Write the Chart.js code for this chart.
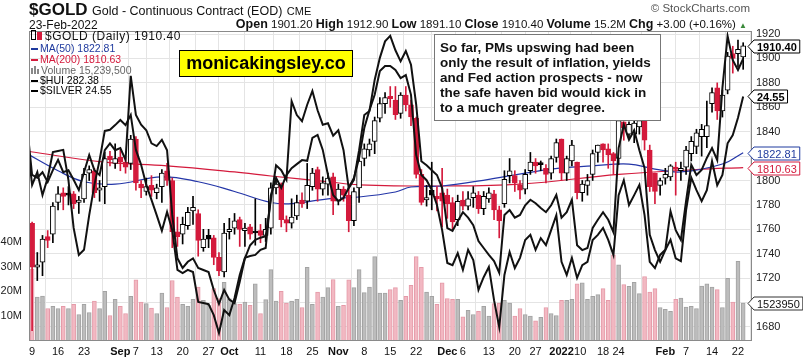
<!DOCTYPE html>
<html>
<head>
<meta charset="utf-8">
<script src="https://cdn.jsdelivr.net/npm/chart.js@4"></script>
<style>
  body { margin: 0; background: #fff; font-family: Arial, "Liberation Sans", sans-serif; }
  #wrap { position: relative; width: 803px; height: 360px; overflow: hidden; }
  canvas { position: absolute; left: 0; top: 0; }
  .abs { position: absolute; white-space: nowrap; }
  .lg { position: absolute; left: 31px; font-size: 10.5px; line-height: 11px; white-space: nowrap; }
  .dash { display: inline-block; width: 7px; height: 2px; margin-right: 2px; vertical-align: middle; }
  .vb { display: inline-block; width: 2px; background: #888; margin-right: 1px; vertical-align: baseline; }
</style>
</head>
<body>
<div id="wrap">
  <canvas id="chart1" width="803" height="360"></canvas>

  <div class="abs" style="left:29px; top:0px; color:#111;">
    <b style="font-size:17px;">$GOLD</b>
    <span style="font-size:12.5px;">Gold - Continuous Contract (EOD)</span>
    <span style="font-size:11px;">CME</span>
  </div>
  <div class="abs" style="left:29px; top:18px; font-size:12px; color:#111;">23-Feb-2022</div>
  <div class="abs" style="right:56px; top:17px; font-size:11.5px; color:#111;">
    <b style="font-size:12.5px;">Open</b> 1901.20 <b style="font-size:12.5px;">High</b> 1912.90
    <b style="font-size:12.5px;">Low</b> 1891.10 <b style="font-size:12.5px;">Close</b> 1910.40
    <b style="font-size:12.5px;">Volume</b> 15.2M <b style="font-size:12.5px;">Chg</b> +3.00 (+0.16%)
    <span style="font-size:8px; color:#3a8a3a;">&#9650;</span>
  </div>
  <div class="abs" style="right:53px; top:2px; font-size:11.5px; color:#555;">&copy; StockCharts.com</div>

  <div class="lg" style="top:30px; font-size:12px; letter-spacing:0.5px; color:#111;">
    <span style="display:inline-block;width:3px;height:8px;border:1px solid #000;margin-right:1px;"></span><span style="display:inline-block;width:3px;height:6px;background:#d41a3c;border:1px solid #d41a3c;margin-right:3px;"></span>$GOLD (Daily) 1910.40
  </div>
  <div class="lg" style="top:43px; color:#1f3a9e;"><span class="dash" style="background:#1f3a9e;"></span>MA(50) 1822.81</div>
  <div class="lg" style="top:54px; color:#d41a3c;"><span class="dash" style="background:#d41a3c;"></span>MA(200) 1810.63</div>
  <div class="lg" style="top:65px; color:#666;"><span class="vb" style="height:6px;"></span><span class="vb" style="height:8px;"></span><span class="vb" style="height:5px;margin-right:2px;"></span>Volume 15,239,500</div>
  <div class="lg" style="top:75px; color:#000;"><span class="dash" style="background:#000;"></span>$HUI 282.38</div>
  <div class="lg" style="top:85px; color:#000;"><span class="dash" style="background:#000;"></span>$SILVER 24.55</div>

  <div class="abs" style="left:179px; top:50px; width:172px; height:25px; background:#ffff00; border:1px solid #000; font-weight:bold; font-size:18px; line-height:25px; text-align:center; color:#000;">monicakingsley.co</div>

  <div class="abs" style="left:434px; top:34px; width:215px; height:75px; padding:5px 5px; background:#fff; border:1px solid #777; font-weight:bold; font-size:13.5px; line-height:15px; color:#111; white-space:normal;">
    So far, PMs upswing had been<br>only the result of inflation, yields<br>and Fed action prospects - now<br>the safe haven bid would kick in<br>to a much greater degree.
  </div>
</div>

<script>
// daily gold candles, Aug 9 2021 .. Feb 23 2022 (index 0 = Aug 9)
const opens = [
  1765,1729,1733,1754,1756,1782,1790,1789,1789,1782,
  1785,1806,1808,1792,1795,1820,1814,1819,1815,1814,
  1834,1797,1791,1796,1790,1795,1808,1800,1758,1756,
  1763,1775,1773,1745,1755,1753,1737,1725,1758,1761,
  1768,1759,1762,1758,1759,1755,1761,1794,1797,1768,
  1765,1771,1784,1783,1795,1809,1793,1797,1803,1783,
  1793,1788,1767,1794,1818,1825,1832,1851,1863,1869,
  1866,1855,1870,1862,1851,1805,1784,1792,1787,1790,
  1788,1782,1768,1784,1779,1786,1788,1777,1785,1789,
  1776,1781,1804,1804,1796,1793,1808,1815,1814,1810,
  1806,1819,1834,1806,1816,1815,1790,1796,1805,1823,
  1830,1826,1822,1818,1848,1838,1838,1844,1849,1825,
  1806,1796,1802,1803,1811,1808,1811,1822,1828,1836,
  1836,1863,1876,1857,1874,1904,1904,1901.2
];
const highs = [
  1766,1741,1755,1759,1782,1795,1794,1795,1791,1787,
  1810,1812,1810,1800,1823,1824,1830,1825,1819,1837,
  1836,1800,1802,1804,1797,1809,1814,1802,1770,1770,
  1778,1787,1776,1760,1760,1755,1741,1765,1769,1773,
  1770,1765,1764,1785,1764,1769,1798,1801,1798,1771,
  1785,1788,1790,1814,1810,1811,1803,1806,1806,1797,
  1795,1793,1794,1820,1830,1834,1852,1868,1872,1877,
  1877,1872,1877,1866,1852,1809,1796,1815,1795,1810,
  1793,1786,1788,1791,1791,1795,1791,1791,1794,1792,
  1779,1808,1818,1808,1800,1809,1823,1818,1816,1813,
  1820,1834,1834,1820,1833,1815,1800,1805,1825,1829,
  1830,1830,1823,1852,1848,1848,1850,1853,1852,1829,
  1806,1802,1810,1813,1815,1815,1828,1836,1842,1846,
  1865,1876,1880,1874,1905,1910,1915,1912.9
];
const lows = [
  1677,1718,1722,1745,1749,1776,1776,1780,1777,1773,
  1782,1800,1786,1783,1781,1812,1810,1808,1806,1809,
  1792,1786,1788,1787,1785,1782,1796,1745,1746,1748,
  1760,1764,1738,1742,1745,1731,1722,1721,1752,1756,
  1746,1746,1752,1747,1749,1750,1756,1789,1762,1758,
  1761,1768,1778,1777,1792,1783,1788,1788,1772,1780,
  1783,1758,1763,1782,1812,1820,1822,1848,1855,1860,
  1850,1851,1857,1845,1802,1780,1779,1776,1775,1762,
  1769,1760,1763,1776,1776,1778,1773,1772,1782,1768,
  1753,1778,1798,1791,1785,1789,1805,1806,1808,1798,
  1801,1815,1800,1800,1812,1785,1783,1788,1800,1815,
  1815,1810,1805,1813,1833,1834,1831,1838,1825,1791,
  1781,1788,1797,1800,1788,1800,1805,1816,1822,1820,
  1827,1856,1850,1852,1871,1888,1893,1891.1
];
const closes = [
  1729,1731,1752,1751,1779,1789,1787,1788,1781,1784,
  1805,1809,1790,1794,1818,1817,1818,1815,1811,1834,
  1798,1794,1795,1792,1794,1806,1800,1758,1754,1764,
  1774,1778,1751,1752,1752,1737,1726,1757,1760,1767,
  1760,1761,1756,1757,1755,1760,1794,1797,1768,1765,
  1770,1782,1781,1796,1806,1793,1798,1802,1783,1793,
  1788,1767,1791,1816,1826,1830,1849,1863,1868,1867,
  1854,1870,1862,1852,1805,1782,1786,1788,1785,1783,
  1781,1766,1783,1779,1785,1790,1777,1787,1790,1776,
  1767,1801,1808,1798,1792,1805,1815,1812,1813,1805,
  1818,1831,1806,1818,1829,1790,1797,1800,1822,1829,
  1825,1821,1816,1849,1843,1846,1847,1849,1833,1795,
  1791,1800,1805,1812,1809,1810,1825,1832,1839,1842,
  1845,1872,1857,1870,1902,1900,1907.4,1910.4
];
// volume in millions
const volumes = [
  29.0,17.7,18.1,13.1,14.0,13.1,14.0,13.1,14.8,10.7,
  14.8,11.5,16.1,13.1,20.0,10.3,16.8,14.0,11.1,18.0,
  24.7,15.7,15.1,13.3,11.1,19.3,13.5,24.4,17.7,14.8,
  14.0,16.8,21.7,16.4,14.4,21.1,17.1,23.7,17.1,15.1,
  14.8,15.7,14.4,23.1,11.1,16.7,28.8,16.1,20.0,15.3,
  16.1,16.8,13.5,29.7,14.8,19.7,17.7,21.5,24.8,14.0,
  14.4,24.7,21.5,28.8,19.5,21.7,34.0,19.3,19.3,20.7,
  21.5,16.4,18.0,22.4,34.0,29.7,19.7,18.0,14.8,23.5,
  17.1,16.8,16.8,9.7,12.4,10.7,12.0,14.0,10.0,15.1,
  15.3,16.4,15.3,10.0,13.1,10.7,10.0,8.1,9.5,13.5,
  11.1,10.3,16.4,16.4,16.8,23.1,23.5,16.8,18.0,18.7,
  21.1,16.4,34.7,30.7,22.8,22.0,23.7,19.1,26.0,19.7,
  21.1,13.5,12.8,12.0,16.8,17.3,13.7,14.0,13.1,22.1,
  23.1,21.7,20.7,13.5,25.3,15.7,32.1,15.24
];
// overlays start one day earlier (Aug 6)
const hui = [
  260.1,247.8,251.3,245.0,249.7,256.8,257.1,257.4,249.1,236.0,228.6,
  230.0,239.5,247.8,254.6,262.6,262.9,264.2,265.6,264.2,267.0,
  257.4,253.3,247.8,243.7,239.5,235.2,240.4,235.4,224.5,223.6,
  224.5,223.9,215.7,215.4,215.1,212.1,207.2,213.5,212.1,216.8,
  223.1,227.8,228.3,228.6,230.0,230.5,245.0,249.7,247.0,250.5,
  252.4,253.5,254.6,254.4,260.7,261.5,257.4,250.5,245.0,243.4,
  244.2,247.0,249.7,255.2,263.4,268.3,272.5,279.0,280.4,280.4,
  279.3,277.1,277.9,272.5,256.0,250.5,249.1,246.4,242.3,235.4,
  226.4,225.8,229.1,224.5,230.0,227.2,219.0,222.5,225.3,216.2,
  208.8,223.1,229.4,225.0,227.8,232.7,234.1,230.0,233.2,231.3,
  235.4,239.5,226.7,223.1,227.8,222.3,225.8,226.7,232.7,234.1,
  236.0,232.7,228.6,245.0,249.1,242.3,245.0,247.8,239.5,226.7,
  225.0,228.6,230.0,240.6,235.4,232.7,243.4,253.3,250.5,251.9,
  255.2,257.9,254.6,274.4,288.6,282.0,279.3,282.38
];
const silver = [
  24.14,23.41,23.37,23.45,23.31,23.48,23.63,23.45,23.48,23.34,23.19,
  23.45,23.70,23.48,23.41,23.77,23.87,23.77,23.80,23.63,24.85,
  24.28,24.14,24.06,23.87,23.83,23.92,23.77,22.83,22.20,22.06,
  22.15,22.20,22.06,22.03,22.00,21.74,21.54,21.74,21.60,21.55,
  21.86,22.20,22.39,22.47,22.50,22.52,23.05,23.55,23.48,23.34,
  24.48,24.28,24.19,24.43,24.63,24.35,24.14,24.16,23.98,24.06,
  23.77,23.22,23.34,23.77,24.28,24.34,24.79,25.11,25.35,25.43,
  25.22,25.06,25.21,25.01,24.43,23.61,23.55,23.48,23.41,23.22,
  22.64,22.60,22.74,22.87,22.79,22.68,22.45,22.35,22.25,22.16,
  21.99,22.83,22.90,22.79,22.83,22.97,23.05,23.00,22.93,22.87,
  22.97,23.12,22.79,22.87,23.05,22.39,22.32,22.35,22.64,22.76,
  22.87,22.76,22.58,23.80,24.14,23.92,24.06,23.77,23.51,22.54,
  22.32,22.15,22.32,22.47,22.20,22.16,22.90,23.37,23.19,23.03,
  23.19,23.61,23.26,23.41,23.87,23.99,24.24,24.55
];
const ma50Days = [-1,5,10,16,25,32,39,46,50,57,63,70,73,79,88,100,108,115,120,125,133,137];
const ma50 = [1822,1808,1799,1797,1803,1799,1791,1782,1781,1785,1786.5,1790.6,1794.7,1795.5,1801,1809.4,1812,1813.5,1809.4,1807,1813.5,1822.81];
const ma200Days = [-1,14,26,39,46,57,63,79,94,113,128,137];
const ma200 = [1824,1815,1812,1807,1803.7,1799,1796.5,1795.5,1797,1805,1809,1810.63];

const tickDays = [0,5,10,17,20,24,29,34,38,44,49,54,59,64,69,74,80,83,88,93,97,102,105.6,110,113,122,126,131,136];
const tickLabels = ['9','16','23','Sep','7','13','20','27','Oct','11','18','25','Nov','8','15','22','Dec','6','13','20','27','2022','10','18','24','Feb','7','14','22'];
const boldLabels = ['Sep','Oct','Nov','Dec','2022','Feb'];
const priceTicks = [1680,1700,1720,1740,1760,1780,1800,1820,1840,1860,1880,1900,1920];
const volTicks = [10,20,30,40];

const RED = '#d41a3c';
const isUp = i => closes[i] >= (i ? closes[i - 1] : opens[0]);

const wickData = closes.map((c, i) => ({ x: i, y: [lows[i], highs[i]] }));
const bodyData = closes.map((c, i) => ({ x: i, y: [Math.min(opens[i], c), Math.max(opens[i], c)] }));
const volData = volumes.map((v, i) => ({ x: i, y: v }));
const huiData = hui.map((v, k) => ({ x: k - 1, y: v }));
const silverData = silver.map((v, k) => ({ x: k - 1, y: v }));

const tagPlugin = {
  id: 'tags',
  afterDraw(chart) {
    const ctx = chart.ctx, a = chart.chartArea;
    ctx.save();
    ctx.strokeStyle = '#8a8a8a';
    ctx.lineWidth = 1;
    ctx.strokeRect(a.left + 0.5, a.top + 0.5, a.right - a.left - 1, a.bottom - a.top - 1);

    const tag = (y, text, border, fg, bold) => {
      ctx.font = (bold ? 'bold ' : '') + '11px Arial';
      const w = ctx.measureText(text).width + 6;
      const x0 = a.right - 4, x1 = a.right + 2, h = 13;
      y = Math.round(y) + 0.5;
      ctx.beginPath();
      ctx.moveTo(x0, y);
      ctx.lineTo(x1, y - h / 2);
      ctx.lineTo(x1 + w, y - h / 2);
      ctx.lineTo(x1 + w, y + h / 2);
      ctx.lineTo(x1, y + h / 2);
      ctx.closePath();
      ctx.fillStyle = '#fff';
      ctx.fill();
      ctx.strokeStyle = border;
      ctx.stroke();
      ctx.fillStyle = fg;
      ctx.textBaseline = 'middle';
      ctx.textAlign = 'left';
      ctx.fillText(text, x1 + 3, y + 1);
    };
    const s = chart.scales;
    tag(s.yVol.getPixelForValue(volumes[volumes.length - 1]), '1523950', '#333', '#111', false);
    tag(s.y.getPixelForValue(ma200[ma200.length - 1]), '1810.63', RED, RED, false);
    tag(s.y.getPixelForValue(ma50[ma50.length - 1]), '1822.81', '#1f3a9e', '#1f3a9e', false);
    tag(s.ySilver.getPixelForValue(silver[silver.length - 1]), '24.55', '#000', '#000', true);
    tag(s.y.getPixelForValue(closes[closes.length - 1]), '1910.40', '#000', '#000', true);
    ctx.restore();
  }
};

new Chart(document.getElementById('chart1'), {
  type: 'bar',
  data: {
    datasets: [
      {
        label: 'Volume', data: volData, yAxisID: 'yVol', order: 6,
        barThickness: 4, grouped: false,
        backgroundColor: volData.map((d, i) => isUp(i) ? '#bdbdbd' : '#f2b8c2'),
        borderColor: volData.map((d, i) => isUp(i) ? '#a3a3a3' : '#e59aa8'),
        borderWidth: 1, borderSkipped: false
      },
      {
        type: 'line', label: 'MA(200)', data: ma200.map((v, k) => ({ x: ma200Days[k], y: v })),
        yAxisID: 'y', order: 5, borderColor: RED, borderWidth: 1.2, pointRadius: 0, tension: 0.4, clip: 0
      },
      {
        type: 'line', label: 'MA(50)', data: ma50.map((v, k) => ({ x: ma50Days[k], y: v })),
        yAxisID: 'y', order: 4, borderColor: '#2436a8', borderWidth: 1.2, pointRadius: 0, tension: 0.4, clip: 0
      },
      {
        label: 'wick', data: wickData, yAxisID: 'y', order: 3,
        barThickness: 1, grouped: false, minBarLength: 1,
        backgroundColor: wickData.map((d, i) => isUp(i) ? '#000' : RED)
      },
      {
        label: 'body', data: bodyData, yAxisID: 'y', order: 2,
        barThickness: 5, grouped: false, minBarLength: 2,
        backgroundColor: bodyData.map((d, i) => closes[i] > opens[i] ? '#fff' : (isUp(i) ? '#000' : RED)),
        borderColor: bodyData.map((d, i) => isUp(i) ? '#000' : RED),
        borderWidth: 1, borderSkipped: false
      },
      {
        type: 'line', label: '$HUI', data: huiData, yAxisID: 'yHui', order: 1,
        borderColor: '#111', borderWidth: 2, pointRadius: 0, tension: 0, clip: 0
      },
      {
        type: 'line', label: '$SILVER', data: silverData, yAxisID: 'ySilver', order: 1,
        borderColor: '#111', borderWidth: 2, pointRadius: 0, tension: 0, clip: 0
      }
    ]
  },
  options: {
    responsive: false,
    animation: false,
    devicePixelRatio: 1,
    layout: { padding: { top: 31, left: 0, right: 0, bottom: 0 } },
    plugins: { legend: { display: false }, tooltip: { enabled: false } },
    scales: {
      x: {
        type: 'linear', min: -0.6, max: 138.7, offset: false,
        afterFit: s => { s.height = 19; },
        afterBuildTicks: s => { s.ticks = tickDays.map(v => ({ value: v })); },
        grid: { color: '#e4e4e4', drawTicks: false },
        border: { display: false },
        ticks: {
          autoSkip: false, maxRotation: 0, minRotation: 0, padding: 4, color: '#111',
          callback: (v, i) => tickLabels[i],
          font: c => ({ family: 'Arial', size: 11, weight: boldLabels.includes(tickLabels[c.index]) ? 'bold' : 'normal' })
        }
      },
      y: {
        position: 'right', min: 1668.5, max: 1922.5,
        afterFit: s => { s.width = 51; },
        afterBuildTicks: s => { s.ticks = priceTicks.map(v => ({ value: v })); },
        grid: { color: '#e4e4e4', drawTicks: false },
        border: { display: false },
        ticks: { padding: 4, color: '#222', font: { family: 'Arial', size: 11 }, callback: v => String(v) }
      },
      yVol: {
        position: 'left', min: 0, max: 125,
        afterFit: s => { s.width = 29; },
        afterBuildTicks: s => { s.ticks = volTicks.map(v => ({ value: v })); },
        grid: { display: false, drawTicks: false },
        border: { display: false },
        ticks: { padding: 7, color: '#222', font: { family: 'Arial', size: 11 }, callback: v => v + 'M' }
      },
      yHui: { display: false, min: 205, max: 290 },
      ySilver: { display: false, min: 21.0, max: 25.5 }
    }
  },
  plugins: [tagPlugin]
});
</script>
</body>
</html>
